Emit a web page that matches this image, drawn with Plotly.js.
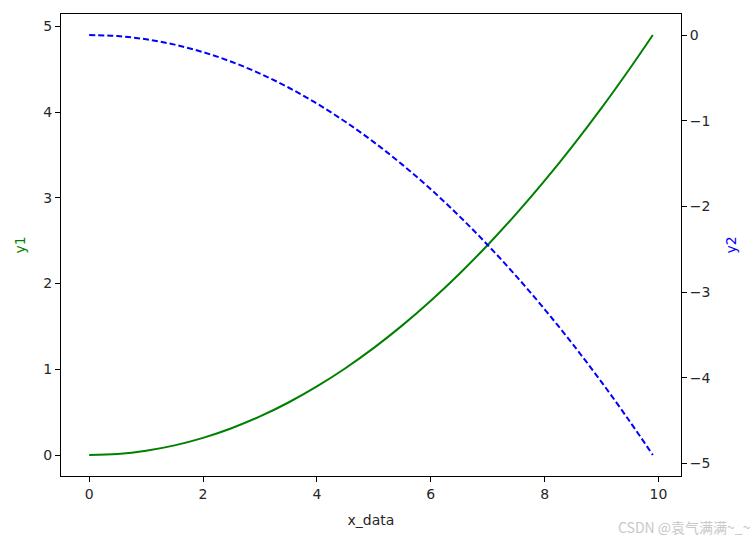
<!DOCTYPE html>
<html><head><meta charset="utf-8">
<script src="https://cdn.plot.ly/plotly-3.0.1.min.js"></script>
<style>html,body{margin:0;padding:0;background:#fff;}#chart{width:755px;height:542px;}</style>
</head><body><div id="chart"></div>
<script>
const xData = [0,0.5,1,1.5,2,2.5,3,3.5,4,4.5,5,5.5,6,6.5,7,7.5,8,8.5,9,9.5,9.9];
const y1Values = [0,0.0125,0.05,0.1125,0.2,0.3125,0.45,0.6125,0.8,1.0125,1.25,1.5125,1.8,2.1125,2.45,2.8125,3.2,3.6125,4.05,4.5125,4.9005];
const y2Values = [0,-0.0125,-0.05,-0.1125,-0.2,-0.3125,-0.45,-0.6125,-0.8,-1.0125,-1.25,-1.5125,-1.8,-2.1125,-2.45,-2.8125,-3.2,-3.6125,-4.05,-4.5125,-4.9005];
const xTicks = [0,2,4,6,8,10];
const y1Ticks = [0,1,2,3,4,5];
const y2Ticks = [0,-1,-2,-3,-4,-5];
const y2TickText = ['0','\u22121','\u22122','\u22123','\u22124','\u22125'];

const font = {family:'DejaVu Sans', size:14, color:'#262626'};
const traces = [
  {x:xData, y:y1Values, mode:'lines', line:{color:'green', width:2, shape:'spline'}, yaxis:'y', hoverinfo:'none'},
  {x:xData, y:y2Values, mode:'lines', line:{color:'blue', width:2, dash:'6px,3px', shape:'spline'}, yaxis:'y2', hoverinfo:'none'}
];
const axisCommon = {showgrid:false, zeroline:false, showline:true, linecolor:'#000', linewidth:1, ticks:'outside', ticklen:5, tickcolor:'#000', tickfont:font};
const layout = {
  width:755, height:542,
  margin:{l:61, r:74, t:14, b:66},
  paper_bgcolor:'#fff', plot_bgcolor:'#fff',
  showlegend:false,
  font:font,
  xaxis:Object.assign({}, axisCommon, {range:[-0.495,10.395], tickvals:xTicks, mirror:true,
    title:{text:'x_data', font:{family:'DejaVu Sans', size:14, color:'#262626'}, standoff:14}}),
  yaxis:Object.assign({}, axisCommon, {range:[-0.245,5.145], tickvals:y1Ticks,
    title:{text:'y1', font:{family:'DejaVu Sans', size:14, color:'green'}, standoff:14}}),
  yaxis2:Object.assign({}, axisCommon, {overlaying:'y', side:'right', range:[-5.145,0.245], tickvals:y2Ticks, ticktext:y2TickText,
    title:{text:'y2', font:{family:'DejaVu Sans', size:14, color:'blue'}, standoff:16}}),
  annotations:[{xref:'paper', yref:'paper', x:1.0, y:0, xanchor:'right', yanchor:'middle', showarrow:false,
    xshift:72, yshift:-51, text:'CSDN @袁气满满~_~', font:{family:'Noto Sans CJK SC', size:14, color:'#c8c8c8'}}]
};
Plotly.newPlot('chart', traces, layout, {displayModeBar:false, staticPlot:true});
</script></body></html>
